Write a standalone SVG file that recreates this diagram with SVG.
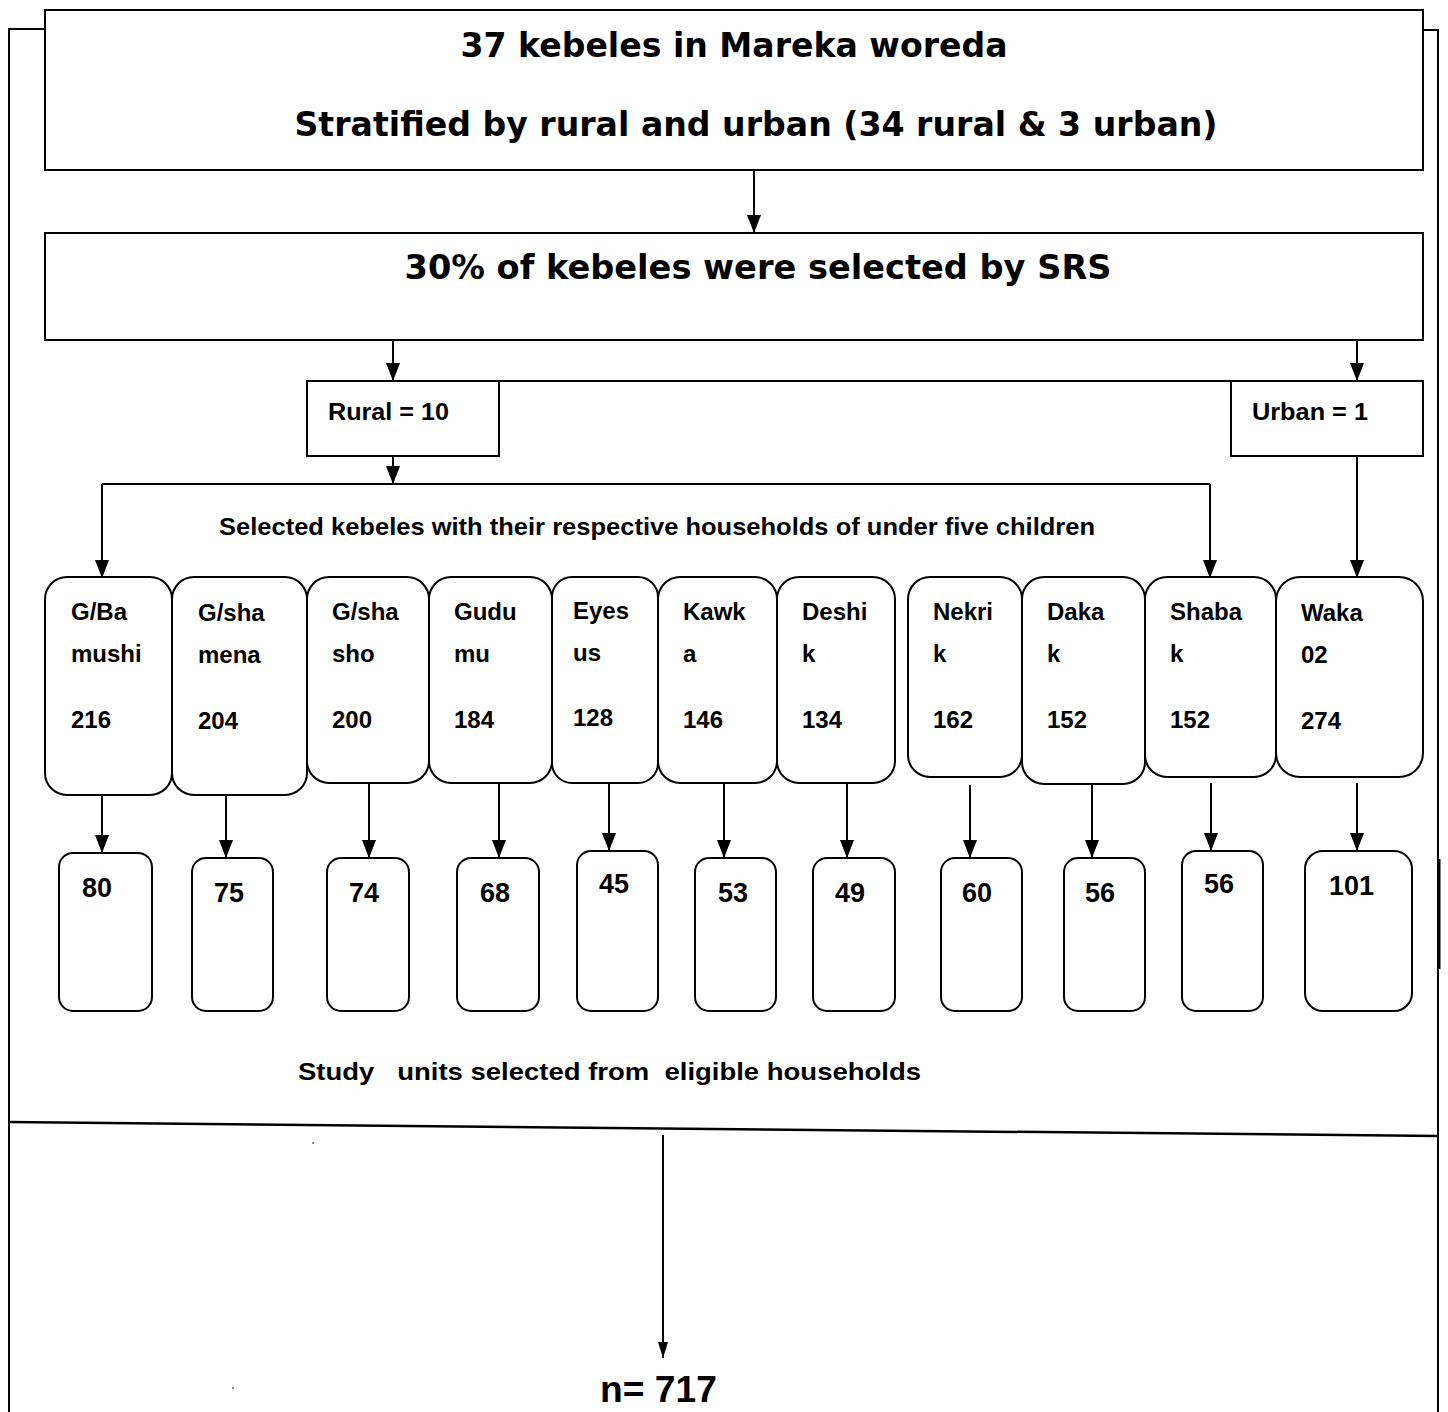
<svg xmlns="http://www.w3.org/2000/svg" width="1448" height="1412" viewBox="0 0 1448 1412">
<style>
.box{fill:#fff;stroke:#000;stroke-width:2}
.ln{fill:none;stroke:#000;stroke-width:2}
.title{font-family:"DejaVu Sans",Verdana,sans-serif;font-weight:bold;font-size:34px;fill:#000}
.lbl{font-family:"Liberation Sans",Arial,sans-serif;font-weight:bold;font-size:24px;fill:#000}
.num{font-family:"Liberation Sans",Arial,sans-serif;font-weight:bold;font-size:27px;fill:#000}
.big{font-family:"Liberation Sans",Arial,sans-serif;font-weight:bold;font-size:36px;fill:#000}
</style>
<defs>
<marker id="ad" viewBox="0 0 18 14" markerWidth="18" markerHeight="14" refX="18" refY="7" orient="auto" markerUnits="userSpaceOnUse">
<path d="M0,0 L18,7 L0,14 z" fill="#000"/>
</marker>
<marker id="an" viewBox="0 0 16 10" markerWidth="16" markerHeight="10" refX="16" refY="5" orient="auto" markerUnits="userSpaceOnUse">
<path d="M0,0 L16,5 L0,10 z" fill="#000"/>
</marker>
</defs>
<rect width="1448" height="1412" fill="#fff"/>

<g id="frame">
<path class="ln" d="M45,29 H9 V1412"/>
<path class="ln" d="M1423,30 H1438 V1412"/>
<path d="M1439,859 V969" stroke="#000" stroke-width="3"/>
<path d="M9,1122 L1438,1136" stroke="#000" stroke-width="2.5"/>
<circle cx="313" cy="1143" r="0.8" fill="#000"/>
<circle cx="233" cy="1388" r="0.8" fill="#000"/>
</g>

<g id="connectors">
<path class="ln" marker-end="url(#ad)" d="M754,170 V233"/>
<path class="ln" marker-end="url(#ad)" d="M393,340 V381"/>
<path class="ln" marker-end="url(#ad)" d="M1357,340 V381"/>
<path class="ln" d="M499,381 H1231"/>
<path class="ln" marker-end="url(#ad)" d="M393,456 V484"/>
<path class="ln" d="M102,484 H1210"/>
<path class="ln" marker-end="url(#ad)" d="M102,484 V578"/>
<path class="ln" marker-end="url(#ad)" d="M1210,484 V578"/>
<path class="ln" marker-end="url(#ad)" d="M1357,456 V578"/>
<path class="ln" marker-end="url(#ad)" d="M102,795 V853"/>
<path class="ln" marker-end="url(#ad)" d="M226,795 V858"/>
<path class="ln" marker-end="url(#ad)" d="M369,783 V858"/>
<path class="ln" marker-end="url(#ad)" d="M499,783 V858"/>
<path class="ln" marker-end="url(#ad)" d="M609,783 V851"/>
<path class="ln" marker-end="url(#ad)" d="M724,783 V858"/>
<path class="ln" marker-end="url(#ad)" d="M847,783 V858"/>
<path class="ln" marker-end="url(#ad)" d="M970,785 V858"/>
<path class="ln" marker-end="url(#ad)" d="M1092,784 V858"/>
<path class="ln" marker-end="url(#ad)" d="M1211,783 V851"/>
<path class="ln" marker-end="url(#ad)" d="M1357,783 V851"/>
<path class="ln" marker-end="url(#an)" d="M663,1135 V1358" stroke-width="1.5"/>
</g>

<g id="n-top">
<rect class="box" x="45" y="10" width="1378" height="160"/>
<text class="title" x="734" y="57" text-anchor="middle" textLength="547" lengthAdjust="spacingAndGlyphs">37 kebeles in Mareka woreda</text>
<text class="title" x="756" y="136" text-anchor="middle" textLength="923" lengthAdjust="spacingAndGlyphs">Stratified by rural and urban (34 rural &amp; 3 urban)</text>
</g>

<g id="n-srs">
<rect class="box" x="45" y="233" width="1378" height="107"/>
<text class="title" x="758" y="279" text-anchor="middle" textLength="707" lengthAdjust="spacingAndGlyphs">30% of kebeles were selected by SRS</text>
</g>

<g id="n-rural">
<rect class="box" x="307" y="381" width="192" height="75"/>
<text class="lbl" x="328" y="420" textLength="121" lengthAdjust="spacingAndGlyphs">Rural = 10</text>
</g>

<g id="n-urban">
<rect class="box" x="1231" y="381" width="192" height="75"/>
<text class="lbl" x="1252" y="420" textLength="116" lengthAdjust="spacingAndGlyphs">Urban = 1</text>
</g>

<g id="label-selected">
<text class="lbl" x="219" y="535" font-size="22" textLength="876" lengthAdjust="spacingAndGlyphs">Selected kebeles with their respective households of under five children</text>
</g>

<g id="k-gbamushi">
<rect class="box" x="45" y="577" width="127" height="218" rx="22"/>
<text class="lbl" x="71" y="620">G/Ba</text><text class="lbl" x="71" y="662">mushi</text><text class="lbl" x="71" y="728">216</text>
</g>
<g id="k-gshamena">
<rect class="box" x="172" y="577" width="135" height="218" rx="22"/>
<text class="lbl" x="198" y="621">G/sha</text><text class="lbl" x="198" y="663">mena</text><text class="lbl" x="198" y="729">204</text>
</g>
<g id="k-gshasho">
<rect class="box" x="307" y="577" width="122" height="206" rx="22"/>
<text class="lbl" x="332" y="620">G/sha</text><text class="lbl" x="332" y="662">sho</text><text class="lbl" x="332" y="728">200</text>
</g>
<g id="k-gudumu">
<rect class="box" x="429" y="577" width="123" height="206" rx="22"/>
<text class="lbl" x="454" y="620">Gudu</text><text class="lbl" x="454" y="662">mu</text><text class="lbl" x="454" y="728">184</text>
</g>
<g id="k-eyesus">
<rect class="box" x="552" y="577" width="106" height="206" rx="20"/>
<text class="lbl" x="573" y="619">Eyes</text><text class="lbl" x="573" y="661">us</text><text class="lbl" x="573" y="726">128</text>
</g>
<g id="k-kawka">
<rect class="box" x="658" y="577" width="119" height="206" rx="22"/>
<text class="lbl" x="683" y="620">Kawk</text><text class="lbl" x="683" y="662">a</text><text class="lbl" x="683" y="728">146</text>
</g>
<g id="k-deshik">
<rect class="box" x="777" y="577" width="118" height="206" rx="22"/>
<text class="lbl" x="802" y="620">Deshi</text><text class="lbl" x="802" y="662">k</text><text class="lbl" x="802" y="728">134</text>
</g>
<g id="k-nekrik">
<rect class="box" x="908" y="577" width="114" height="200" rx="22"/>
<text class="lbl" x="933" y="620">Nekri</text><text class="lbl" x="933" y="662">k</text><text class="lbl" x="933" y="728">162</text>
</g>
<g id="k-dakak">
<rect class="box" x="1022" y="577" width="123" height="207" rx="22"/>
<text class="lbl" x="1047" y="620">Daka</text><text class="lbl" x="1047" y="662">k</text><text class="lbl" x="1047" y="728">152</text>
</g>
<g id="k-shabak">
<rect class="box" x="1145" y="577" width="131" height="200" rx="22"/>
<text class="lbl" x="1170" y="620">Shaba</text><text class="lbl" x="1170" y="662">k</text><text class="lbl" x="1170" y="728">152</text>
</g>
<g id="k-waka">
<rect class="box" x="1276" y="577" width="147" height="200" rx="24"/>
<text class="lbl" x="1301" y="621">Waka</text><text class="lbl" x="1301" y="663">02</text><text class="lbl" x="1301" y="729">274</text>
</g>

<g id="s-80"><rect class="box" x="59" y="853" width="93" height="158" rx="14"/><text class="num" x="82" y="897">80</text></g>
<g id="s-75"><rect class="box" x="192" y="858" width="81" height="153" rx="14"/><text class="num" x="214" y="902">75</text></g>
<g id="s-74"><rect class="box" x="327" y="858" width="82" height="153" rx="14"/><text class="num" x="349" y="902">74</text></g>
<g id="s-68"><rect class="box" x="457" y="858" width="82" height="153" rx="14"/><text class="num" x="480" y="902">68</text></g>
<g id="s-45"><rect class="box" x="577" y="851" width="81" height="160" rx="14"/><text class="num" x="599" y="893">45</text></g>
<g id="s-53"><rect class="box" x="695" y="858" width="81" height="153" rx="14"/><text class="num" x="718" y="902">53</text></g>
<g id="s-49"><rect class="box" x="813" y="858" width="82" height="153" rx="14"/><text class="num" x="835" y="902">49</text></g>
<g id="s-60"><rect class="box" x="941" y="858" width="81" height="153" rx="14"/><text class="num" x="962" y="902">60</text></g>
<g id="s-56a"><rect class="box" x="1064" y="858" width="81" height="153" rx="14"/><text class="num" x="1085" y="902">56</text></g>
<g id="s-56b"><rect class="box" x="1182" y="851" width="81" height="160" rx="14"/><text class="num" x="1204" y="893">56</text></g>
<g id="s-101"><rect class="box" x="1305" y="851" width="107" height="160" rx="18"/><text class="num" x="1329" y="895">101</text></g>

<g id="label-study">
<text class="lbl" x="298" y="1080" style="white-space:pre" textLength="623" lengthAdjust="spacingAndGlyphs">Study   units selected from  eligible households</text>
</g>

<g id="n-total">
<text class="big" x="600" y="1402" textLength="117" lengthAdjust="spacingAndGlyphs">n= 717</text>
</g>
</svg>
